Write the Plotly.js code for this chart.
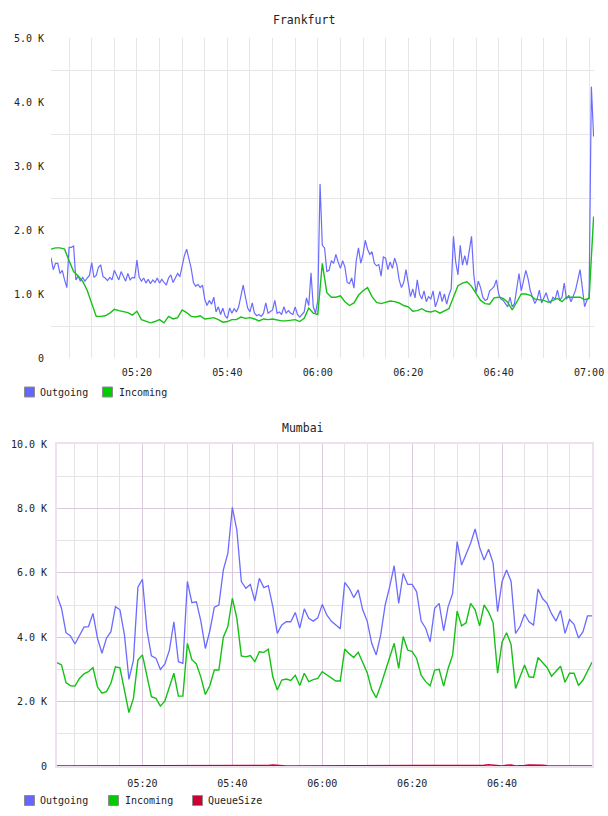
<!DOCTYPE html>
<html>
<head>
<meta charset="utf-8">
<title>Frankfurt / Mumbai traffic</title>
<script src="https://cdn.plot.ly/plotly-3.0.1.min.js"></script>
<style>
  html, body { margin: 0; padding: 0; background: #ffffff; }
  #chart { width: 608px; height: 816px; }
</style>
</head>
<body>
<div id="chart"></div>
<script>
// ---------------------------------------------------------------
// Data
// ---------------------------------------------------------------
const DAY = '2024-01-01 ';

// Frankfurt: outgoing sampled every 30 s, incoming every 60 s, from 05:01
const frankfurtStart = '05:01:00';
const frankfurtOutgoingStepSec = 30;
const frankfurtIncomingStepSec = 60;

const frankfurtOutgoing = [
  1570,1380,1480,1480,1320,1370,1220,1100,1730,1730,
  1750,1220,1280,1200,1260,1200,1250,1290,1490,1260,
  1290,1420,1450,1270,1250,1210,1260,1220,1370,1290,
  1220,1350,1270,1200,1320,1220,1260,1250,1530,1260,
  1200,1250,1170,1230,1160,1220,1180,1250,1170,1230,
  1180,1140,1250,1300,1180,1250,1320,1270,1450,1600,
  1700,1550,1400,1180,1120,1150,1100,1140,920,820,
  900,840,950,720,800,680,780,660,620,780,
  700,770,720,800,980,1140,950,780,720,860,
  700,660,680,650,700,860,700,720,750,900,
  700,720,680,800,700,740,700,680,800,680,
  640,680,720,940,820,1330,800,700,900,2720,
  1760,1720,1350,1370,1520,1480,1620,1500,1400,1520,
  1420,1180,1160,1250,1090,1520,1720,1480,1620,1840,
  1700,1620,1660,1480,1440,1460,1280,1580,1560,1380,
  1500,1400,1560,1450,1220,1100,1180,1380,1200,960,
  1080,940,1220,1000,920,1050,880,960,920,1050,
  800,900,1040,880,1000,840,980,1080,1900,1500,
  1300,1760,1450,1600,1450,1700,1900,1300,1020,1200,
  1100,950,900,920,1050,1080,1120,1220,1000,920,
  900,850,800,950,800,850,1100,1320,1050,1200,
  1370,1240,1050,950,850,920,1060,860,950,1020,
  900,860,950,920,1060,900,950,1170,920,980,
  880,980,1060,1220,1380,1100,800,900,950,4240,
  3460
];

const frankfurtIncoming = [
  1700,1720,1720,1700,1520,1350,1280,1200,1060,850,
  650,650,660,700,760,740,720,710,670,730,
  600,580,550,570,600,550,650,610,630,750,
  710,650,640,660,610,620,630,600,560,570,
  600,600,640,620,630,610,580,610,600,610,
  590,580,580,590,600,570,620,780,700,680,
  1480,1020,950,950,970,880,820,860,980,1050,
  1100,960,870,850,870,890,880,860,820,800,
  730,740,770,730,720,740,700,740,770,950,
  1130,1170,1190,1120,1010,900,850,840,940,950,
  930,870,750,880,1000,1000,980,920,910,900,
  870,900,930,880,950,950,950,950,910,930,
  2210
];

// Mumbai: one sample per minute, from 05:01
const mumbaiStart = '05:01:00';
const mumbaiStepSec = 60;

const mumbaiOutgoing = [
  5290,4900,4140,4040,3790,4070,4310,4330,4740,3970,
  3500,3970,4170,4950,4850,4070,2690,3290,5550,5800,
  4220,3420,3350,3000,3170,3600,4480,3240,3190,5730,
  5070,5100,4500,3650,4200,4930,5000,6090,6600,8030,
  7330,5730,5520,5640,5130,5830,5540,5600,4950,4120,
  4380,4480,4480,4770,4280,4880,4590,4500,4600,5020,
  4690,4500,4380,4260,5700,5520,5230,5470,4850,4500,
  3810,3450,4070,5000,5570,6220,5050,5980,5640,5640,
  5410,4500,4280,3860,4900,5050,4200,4950,5360,6970,
  6240,6580,6920,7360,6790,6400,6730,6300,4790,5730,
  6090,5730,4120,4330,4720,4480,4380,5500,5200,5050,
  4730,4500,4830,4120,4550,4400,3970,4170,4660,4660
];

const mumbaiIncoming = [
  3210,3140,2590,2490,2480,2720,2860,2930,3060,2460,
  2260,2310,2570,3080,3050,2400,1660,2100,3290,3450,
  2780,2150,2100,1860,2020,2460,2880,2170,2170,3810,
  3300,3170,2760,2220,2500,2980,2980,4000,4330,5210,
  4590,3420,3390,3430,3240,3550,3530,3630,2770,2360,
  2670,2700,2660,2820,2500,2880,2620,2680,2720,2930,
  2840,2750,2640,2640,3630,3490,3370,3530,3210,2900,
  2370,2120,2500,2930,3330,3810,3030,4020,3600,3550,
  3340,2820,2620,2490,2980,3000,2480,3030,3450,4810,
  4350,4450,5050,4850,4350,5000,4780,4450,2880,3850,
  4140,3770,2410,2770,3140,2770,2750,3370,3210,3060,
  2790,2950,3100,2600,2880,2880,2500,2670,2930,3220
];

const mumbaiQueueSize = [
  0,0,0,0,0,0,0,0,0,0,
  0,0,0,0,0,0,0,0,0,0,
  0,0,0,0,0,0,0,0,0,0,
  0,0,0,0,0,0,0,0,0,0,
  0,0,0,0,0,0,0,15,30,15,
  0,0,0,0,0,0,0,0,0,0,
  0,0,0,0,0,0,0,0,0,0,
  0,0,0,0,0,0,0,0,0,0,
  0,0,0,0,0,0,0,0,0,0,
  0,0,0,0,0,20,40,20,0,0,
  25,30,0,0,15,30,35,35,25,10,
  0,0,0,0,0,0,0,0,0,0
];

// Tick labels
const frankfurtTimeLabels = ['05:20','05:40','06:00','06:20','06:40','07:00'];
const mumbaiTimeLabels    = ['05:20','05:40','06:00','06:20','06:40'];
const frankfurtValueTicks = [0, 1000, 2000, 3000, 4000, 5000];
const frankfurtValueLabels = ['0','1.0 K','2.0 K','3.0 K','4.0 K','5.0 K'];
const mumbaiValueTicks = [0, 2000, 4000, 6000, 8000, 10000];
const mumbaiValueLabels = ['0','2.0 K','4.0 K','6.0 K','8.0 K','10.0 K'];

// ---------------------------------------------------------------
// Helpers
// ---------------------------------------------------------------
function toSec(hms) {
  const p = hms.split(':').map(Number);
  return p[0] * 3600 + p[1] * 60 + (p[2] || 0);
}
function fmt(sec) {
  const h = Math.floor(sec / 3600), m = Math.floor((sec % 3600) / 60), s = sec % 60;
  const z = v => String(v).padStart(2, '0');
  return DAY + z(h) + ':' + z(m) + ':' + z(s);
}
function timesFor(values, start, stepSec) {
  const s0 = toSec(start);
  return values.map((_, i) => fmt(s0 + i * stepSec));
}

const W = 608, H = 816;
const px = x => x / W;
const py = y => 1 - y / H;

const MONO = '"DejaVu Sans Mono", "Liberation Mono", monospace';
const TEXT = '#222222';
const C_OUT = '#6b6bff';
const C_IN = '#16c016';
const C_Q = '#cc0033';
const SW_OUT = '#6666ff';
const SW_IN = '#00cc00';
const SW_Q = '#cc0033';
const GRID = '#e6e6e6';
const GRID_MAJOR = '#dcc8dc';
const GRID_MINOR = '#e4e4e4';
const BORDER = '#efdfef';

// ---------------------------------------------------------------
// Traces
// ---------------------------------------------------------------
const traces = [
  { x: timesFor(frankfurtOutgoing, frankfurtStart, frankfurtOutgoingStepSec), y: frankfurtOutgoing,
    name: 'Outgoing', type: 'scatter', mode: 'lines', xaxis: 'x', yaxis: 'y',
    line: { color: C_OUT, width: 1.2 }, showlegend: false },
  { x: timesFor(frankfurtIncoming, frankfurtStart, frankfurtIncomingStepSec), y: frankfurtIncoming,
    name: 'Incoming', type: 'scatter', mode: 'lines', xaxis: 'x', yaxis: 'y',
    line: { color: C_IN, width: 1.4 }, showlegend: false },
  { x: timesFor(mumbaiOutgoing, mumbaiStart, mumbaiStepSec), y: mumbaiOutgoing,
    name: 'Outgoing', type: 'scatter', mode: 'lines', xaxis: 'x2', yaxis: 'y2',
    line: { color: C_OUT, width: 1.3 }, showlegend: false },
  { x: timesFor(mumbaiIncoming, mumbaiStart, mumbaiStepSec), y: mumbaiIncoming,
    name: 'Incoming', type: 'scatter', mode: 'lines', xaxis: 'x2', yaxis: 'y2',
    line: { color: C_IN, width: 1.4 }, showlegend: false },
  { x: timesFor(mumbaiQueueSize, mumbaiStart, mumbaiStepSec), y: mumbaiQueueSize,
    name: 'QueueSize', type: 'scatter', mode: 'lines', xaxis: 'x2', yaxis: 'y2',
    line: { color: C_Q, width: 1.5 }, showlegend: false, cliponaxis: false }
];

// ---------------------------------------------------------------
// Layout
// ---------------------------------------------------------------
const tickFont = { family: MONO, size: 10, color: TEXT };

const layout = {
  width: W, height: H,
  margin: { l: 0, r: 0, t: 0, b: 0, pad: 0 },
  paper_bgcolor: '#ffffff', plot_bgcolor: '#ffffff',
  showlegend: false,
  hovermode: false,
  font: { family: MONO, size: 10, color: TEXT },

  // Frankfurt
  xaxis: {
    type: 'date', anchor: 'y', domain: [px(51), px(594)],
    range: [DAY + '05:01:00', DAY + '07:01:05'],
    tickmode: 'array',
    tickvals: frankfurtTimeLabels.map(t => DAY + t + ':00'),
    ticktext: frankfurtTimeLabels,
    ticks: '', showline: false, zeroline: false,
    showgrid: true, gridcolor: GRID, gridwidth: 1,
    minor: { tickmode: 'linear', tick0: DAY + '05:00:00', dtick: 300000,
             showgrid: true, gridcolor: GRID, gridwidth: 1, ticks: '' },
    tickfont: tickFont, ticklabelstandoff: 7, automargin: false, fixedrange: true
  },
  yaxis: {
    anchor: 'x', domain: [py(358), py(38)], range: [0, 5000],
    tickmode: 'array', tickvals: frankfurtValueTicks, ticktext: frankfurtValueLabels,
    ticks: '', showline: false, zeroline: false, showgrid: false,
    minor: { tickmode: 'linear', tick0: 500, dtick: 1000,
             showgrid: true, gridcolor: GRID, gridwidth: 1, ticks: '' },
    tickfont: tickFont, ticklabelstandoff: 6, automargin: false, fixedrange: true
  },

  // Mumbai
  xaxis2: {
    type: 'date', anchor: 'y2', domain: [px(57), px(592)],
    range: [DAY + '05:01:00', DAY + '07:00:00'],
    tickmode: 'array',
    tickvals: mumbaiTimeLabels.map(t => DAY + t + ':00'),
    ticktext: mumbaiTimeLabels,
    ticks: '', zeroline: false,
    showline: true, mirror: true, linecolor: BORDER, linewidth: 2,
    showgrid: true, gridcolor: GRID_MAJOR, gridwidth: 1,
    minor: { tickmode: 'linear', tick0: DAY + '05:00:00', dtick: 300000,
             showgrid: true, gridcolor: GRID_MINOR, gridwidth: 1, ticks: '' },
    tickfont: tickFont, ticklabelstandoff: 7, automargin: false, fixedrange: true
  },
  yaxis2: {
    anchor: 'x2', domain: [py(766), py(444)], range: [0, 10000],
    tickmode: 'array', tickvals: mumbaiValueTicks, ticktext: mumbaiValueLabels,
    ticks: '', zeroline: false,
    showline: true, mirror: true, linecolor: BORDER, linewidth: 2,
    showgrid: true, gridcolor: GRID_MAJOR, gridwidth: 1,
    minor: { tickmode: 'linear', tick0: 0, dtick: 1000,
             showgrid: true, gridcolor: GRID_MINOR, gridwidth: 1, ticks: '' },
    tickfont: tickFont, ticklabelstandoff: 6, automargin: false, fixedrange: true
  },

  annotations: [],
  shapes: []
};

// Panel titles
function addTitle(text, x, y) {
  layout.annotations.push({
    text: text, xref: 'paper', yref: 'paper', x: px(x), y: py(y),
    xanchor: 'center', yanchor: 'middle', showarrow: false,
    font: { family: MONO, size: 11.5, color: TEXT }
  });
}
addTitle('Frankfurt', 304, 20);
addTitle('Mumbai', 303, 428);

// Square-swatch legends under each panel
function addLegend(items, yCenter) {
  items.forEach(it => {
    layout.shapes.push({
      type: 'rect', xref: 'paper', yref: 'paper',
      x0: px(it.sx), x1: px(it.sx + 10), y0: py(yCenter + 5), y1: py(yCenter - 5),
      fillcolor: it.color, line: { color: '#8c8c8c', width: 1 }, layer: 'above'
    });
    layout.annotations.push({
      text: it.name, xref: 'paper', yref: 'paper', x: px(it.tx), y: py(yCenter),
      xanchor: 'left', yanchor: 'middle', showarrow: false,
      font: { family: MONO, size: 10, color: TEXT }
    });
  });
}
addLegend([
  { name: 'Outgoing', color: SW_OUT, sx: 24.5, tx: 38 },
  { name: 'Incoming', color: SW_IN, sx: 102.5, tx: 117 }
], 392);
addLegend([
  { name: 'Outgoing', color: SW_OUT, sx: 24.5, tx: 38 },
  { name: 'Incoming', color: SW_IN, sx: 108.5, tx: 123 },
  { name: 'QueueSize', color: SW_Q, sx: 192.5, tx: 206 }
], 800.5);

Plotly.newPlot('chart', traces, layout, { staticPlot: true, displayModeBar: false, responsive: false });
</script>
</body>
</html>
